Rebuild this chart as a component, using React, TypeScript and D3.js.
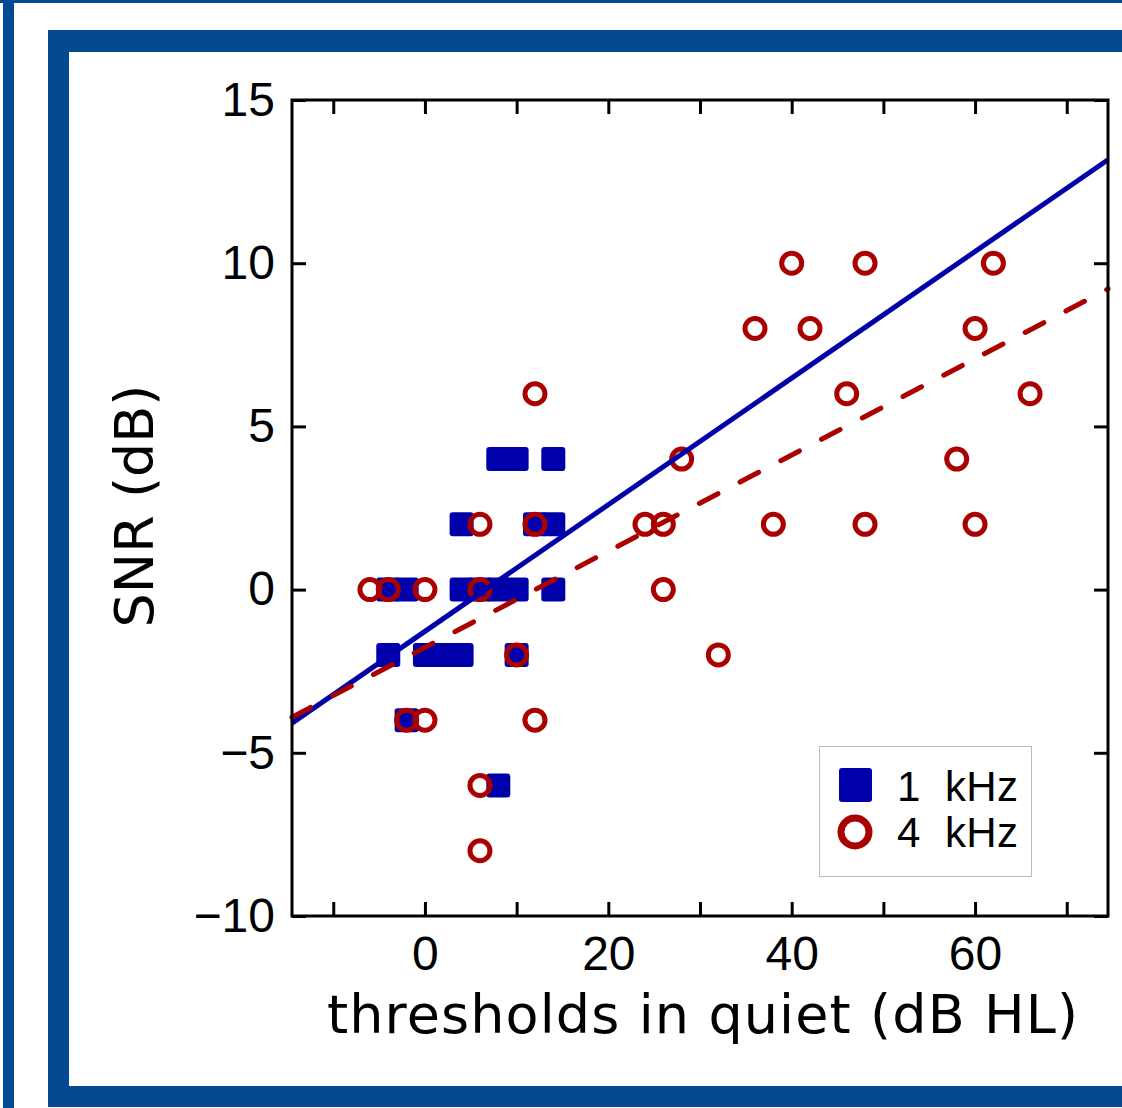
import { useEffect, useRef } from 'react';
import * as d3 from 'd3';

// 1 kHz thresholds vs SNR (filled squares)
const oneKHz: [number, number][] = [
  [8, 4], [10, 4], [14, 4],
  [4, 2], [12, 2], [14, 2],
  [-4, 0], [-2, 0], [4, 0], [6, 0], [8, 0], [10, 0], [14, 0],
  [-4, -2], [0, -2], [2, -2], [4, -2], [10, -2],
  [-2, -4],
  [8, -6],
];

// 4 kHz thresholds vs SNR (open circles)
const fourKHz: [number, number][] = [
  [-6, 0], [-4, 0], [0, 0], [6, 0], [26, 0],
  [6, 2], [12, 2], [24, 2], [26, 2],
  [12, 6], [28, 4],
  [10, -2], [32, -2],
  [-2, -4], [0, -4], [12, -4],
  [6, -6], [6, -8],
  [40, 10], [48, 10], [62, 10],
  [36, 8], [42, 8], [60, 8],
  [46, 6], [66, 6],
  [58, 4],
  [38, 2], [48, 2], [60, 2],
];

// regression lines (end points at the plot edges)
const fit1k: [number, number][] = [[-14.5, -4.09], [74.5, 13.17]];
const fit4k: [number, number][] = [[-14.5, -3.91], [74.5, 9.21]];

const xDomain = [-14.5, 74.5];
const yDomain = [-10, 15];
const xTicks = [-10, 0, 10, 20, 30, 40, 50, 60, 70];
const xLabelTicks = [0, 20, 40, 60];
const yTicks = [-10, -5, 0, 5, 10, 15];

const legendNums = ['1', '4'];
const legendUnit = 'kHz';

const BLUE = '#0000aa';
const RED = '#aa0000';
const FRAME = '#044a92';
const TICK_FONT = '"Liberation Sans", Arial, sans-serif';
const LABEL_FONT = '"DejaVu Sans", sans-serif';

export default function App() {
  const ref = useRef<SVGSVGElement>(null);

  useEffect(() => {
    if (!ref.current) return;
    const svg = d3.select(ref.current);
    svg.selectAll('*').remove();

    /* ── frames ── */
    svg.append('rect').attr('x', 0).attr('y', 0).attr('width', 1122).attr('height', 3).attr('fill', FRAME);
    svg.append('rect').attr('x', 3).attr('y', 0).attr('width', 11).attr('height', 1108).attr('fill', FRAME);
    svg.append('rect').attr('x', 48).attr('y', 30).attr('width', 1200).attr('height', 1077).attr('fill', FRAME);
    svg.append('rect').attr('x', 69).attr('y', 52).attr('width', 1200).attr('height', 1034).attr('fill', '#fff');

    const x = d3.scaleLinear().domain(xDomain).range([292, 1108]);
    const y = d3.scaleLinear().domain(yDomain).range([916, 100]);

    /* ── data ── */
    const g = svg.append('g');
    const sq = 24;
    g.selectAll('rect.s').data(oneKHz).join('rect')
      .attr('class', 's')
      .attr('x', d => x(d[0]) - sq / 2)
      .attr('y', d => y(d[1]) - sq / 2)
      .attr('width', sq).attr('height', sq)
      .attr('rx', 3)
      .attr('fill', BLUE);
    g.selectAll('circle.c').data(fourKHz).join('circle')
      .attr('class', 'c')
      .attr('cx', d => x(d[0]))
      .attr('cy', d => y(d[1]))
      .attr('r', 10)
      .attr('fill', 'none')
      .attr('stroke', RED)
      .attr('stroke-width', 5);

    const line = d3.line<[number, number]>().x(d => x(d[0])).y(d => y(d[1]));
    g.append('path').datum(fit1k).attr('d', line)
      .attr('fill', 'none').attr('stroke', BLUE).attr('stroke-width', 5);
    g.append('path').datum(fit4k).attr('d', line)
      .attr('fill', 'none').attr('stroke', RED).attr('stroke-width', 5)
      .attr('stroke-dasharray', '21 25').attr('stroke-linecap', 'round');

    /* ── axes ── */
    const styleAxis = (sel: d3.Selection<SVGGElement, unknown, null, undefined>) => {
      sel.select('.domain').remove();
      sel.selectAll('.tick line').attr('stroke', '#000').attr('stroke-width', 3);
      sel.selectAll('.tick text')
        .attr('fill', '#000')
        .style('font-family', TICK_FONT)
        .style('font-size', '48px');
    };
    const fmt = (d: d3.NumberValue) => d3.format('d')(+d);

    svg.append('g').attr('transform', 'translate(0,916)')
      .call(d3.axisBottom(x).tickValues(xTicks).tickSizeInner(-14).tickSizeOuter(0).tickPadding(20)
        .tickFormat(d => (xLabelTicks.includes(+d) ? fmt(d) : '')))
      .call(styleAxis);
    svg.append('g').attr('transform', 'translate(0,100)')
      .call(d3.axisTop(x).tickValues(xTicks).tickSizeInner(-14).tickSizeOuter(0).tickFormat(() => ''))
      .call(styleAxis);
    svg.append('g').attr('transform', 'translate(292,0)')
      .call(d3.axisLeft(y).tickValues(yTicks).tickSizeInner(-14).tickSizeOuter(0).tickPadding(17).tickFormat(fmt))
      .call(styleAxis);
    svg.append('g').attr('transform', 'translate(1108,0)')
      .call(d3.axisRight(y).tickValues(yTicks).tickSizeInner(-14).tickSizeOuter(0).tickFormat(() => ''))
      .call(styleAxis);

    svg.append('rect')
      .attr('x', 292).attr('y', 100).attr('width', 1108 - 292).attr('height', 916 - 100)
      .attr('fill', 'none').attr('stroke', '#000').attr('stroke-width', 3);

    /* ── axis titles ── */
    svg.append('text')
      .attr('x', 327).attr('y', 1033)
      .attr('textLength', 751).attr('lengthAdjust', 'spacing')
      .style('font-family', LABEL_FONT).style('font-size', '54px')
      .text('thresholds in quiet (dB HL)');
    svg.append('text')
      .attr('transform', 'translate(153,506) rotate(-90)')
      .attr('text-anchor', 'middle')
      .style('font-family', LABEL_FONT).style('font-size', '54px')
      .text('SNR (dB)');

    /* ── legend ── */
    const lg = svg.append('g');
    lg.append('rect').attr('x', 819.5).attr('y', 746.5).attr('width', 212).attr('height', 130)
      .attr('fill', '#fff').attr('stroke', '#bbb').attr('stroke-width', 1);
    lg.append('rect').attr('x', 839).attr('y', 768).attr('width', 33).attr('height', 34)
      .attr('rx', 3).attr('fill', BLUE);
    lg.append('circle').attr('cx', 855).attr('cy', 832).attr('r', 14)
      .attr('fill', 'none').attr('stroke', RED).attr('stroke-width', 7);
    legendNums.forEach((n, i) => {
      const by = 801 + i * 46;
      lg.append('text').attr('x', 897).attr('y', by)
        .style('font-family', TICK_FONT).style('font-size', '42px').text(n);
      lg.append('text').attr('x', 945).attr('y', by)
        .attr('textLength', 73).attr('lengthAdjust', 'spacing')
        .style('font-family', TICK_FONT).style('font-size', '42px').text(legendUnit);
    });
  }, []);

  return (
    <div style={{ position: 'absolute', left: 0, top: 0 }}>
      <svg ref={ref} width={1122} height={1108} style={{ display: 'block', background: '#fff' }} />
    </div>
  );
}
